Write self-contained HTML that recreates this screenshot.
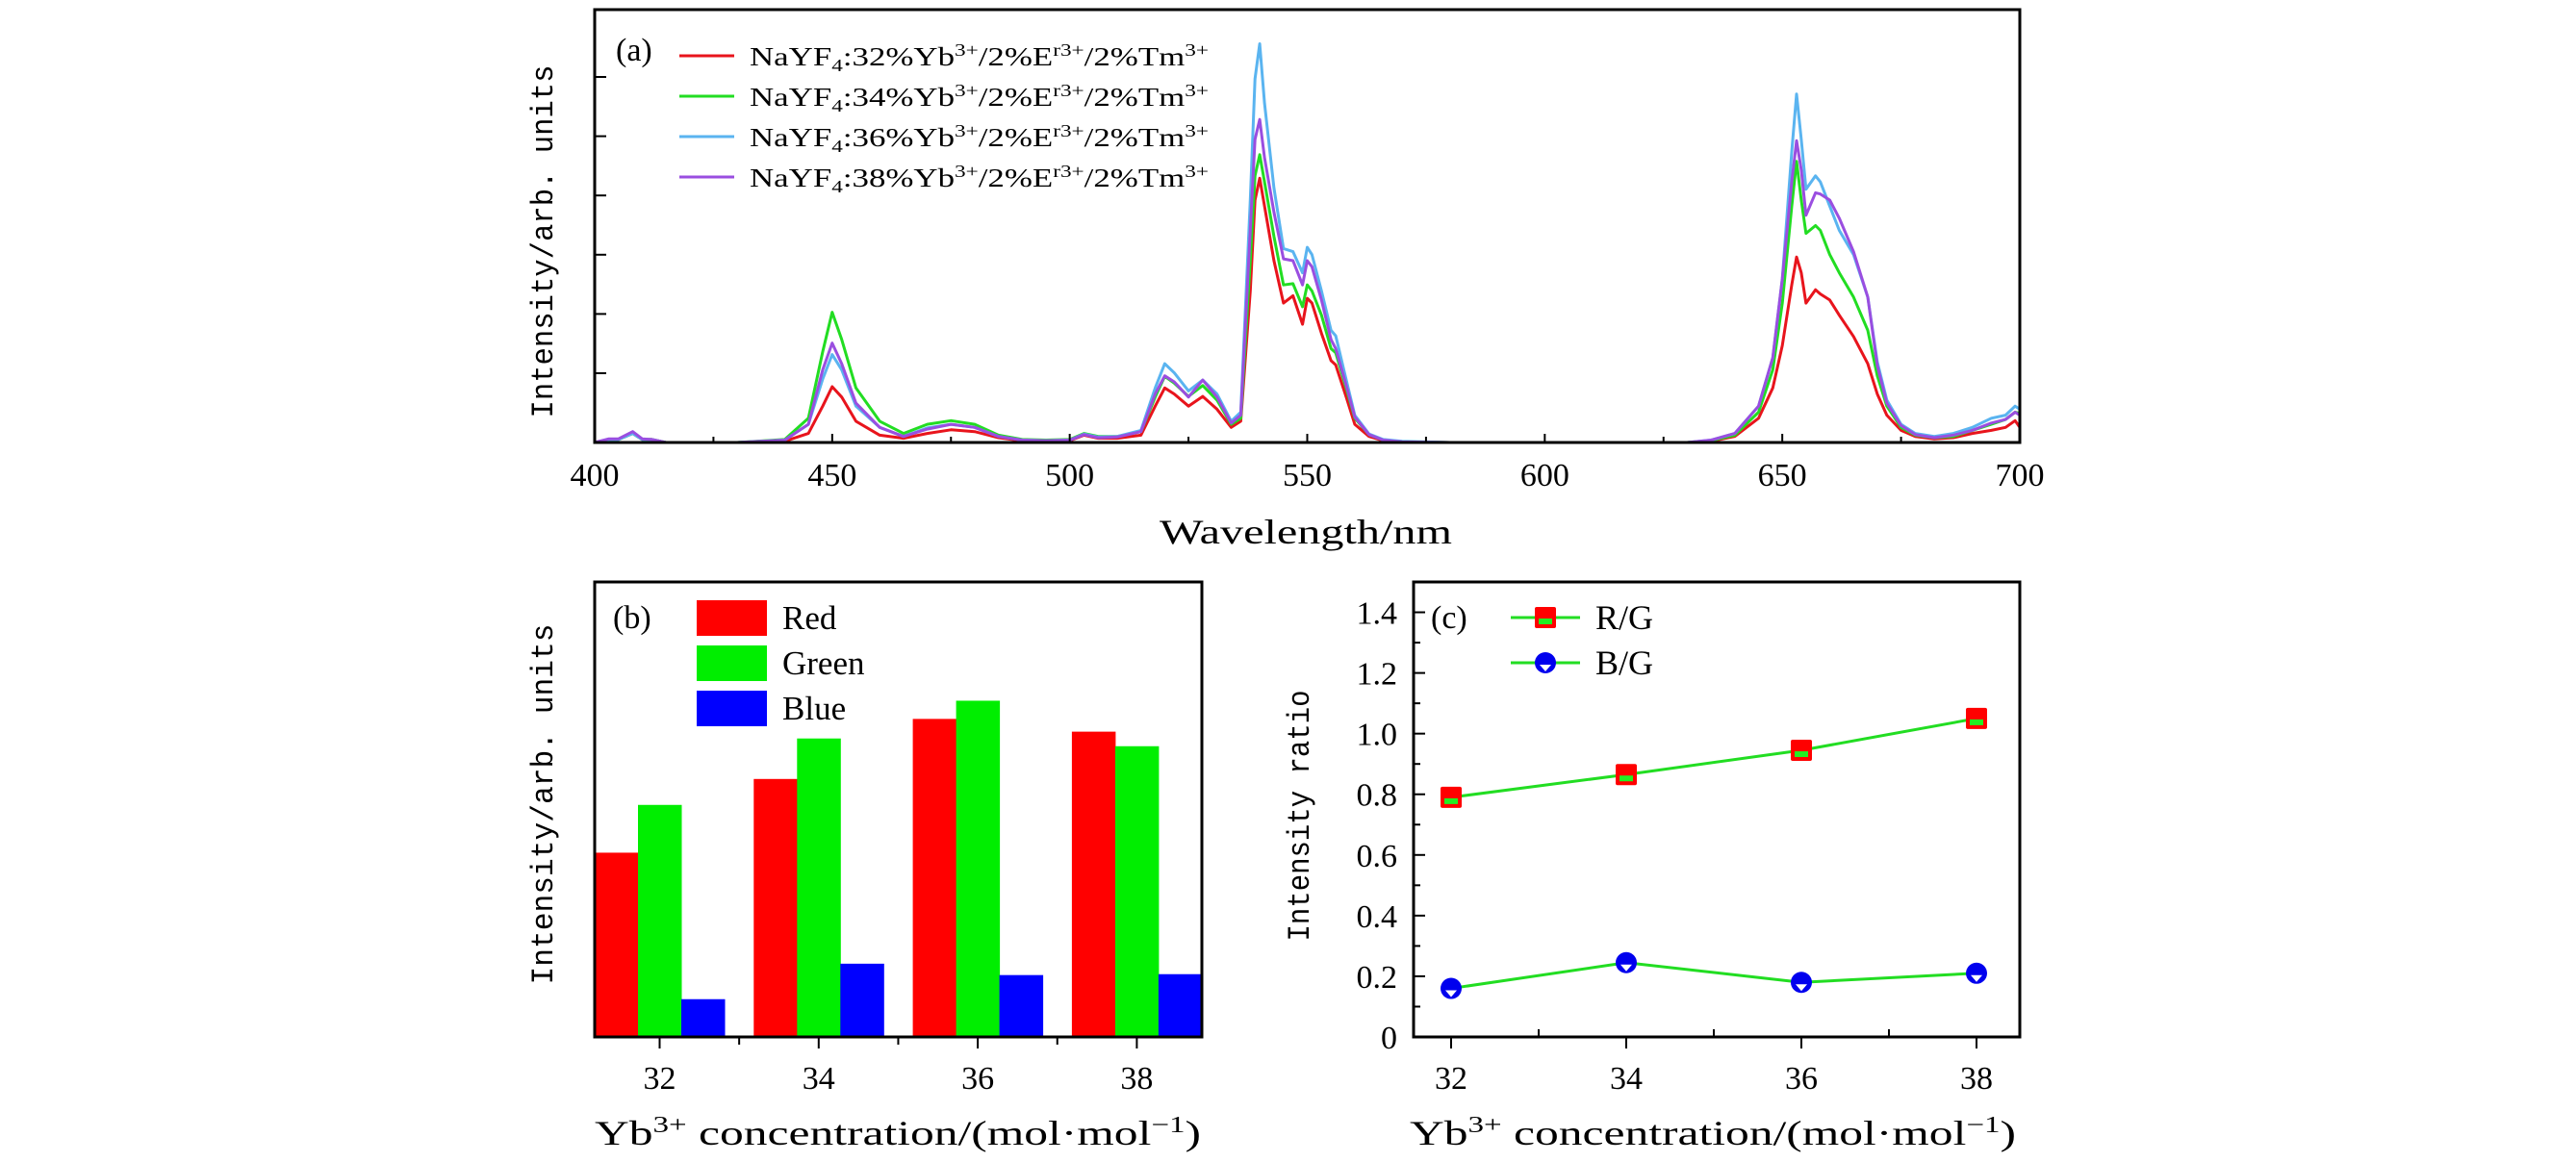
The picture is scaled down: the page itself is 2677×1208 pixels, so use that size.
<!DOCTYPE html>
<html><head><meta charset="utf-8"><style>
html,body{margin:0;padding:0;background:#fff;}
svg{display:block;font-family:"Liberation Serif",serif;}
</style></head><body>
<svg id="fig" width="2677" height="1208" viewBox="0 0 2677 1208" xmlns="http://www.w3.org/2000/svg">
<g id="pa"></g>
<g id="pb"></g>
<g id="pc"></g>
</svg>
<script>
const wavelengths=[400,403,405,408,410,412,415,420,430,440,445,448,450,452,455,460,465,470,475,480,485,490,495,500,503,506,510,515,518,520,522,525,528,531,534,536,538,539,540,541,543,545,547,549,550,551,553,555,556,558,560,563,566,570,580,600,620,630,635,640,645,648,650,652,653,654,655,657,658,660,662,665,668,670,672,675,678,682,686,690,694,697,699,700];
const spec32=[0,0.05,0.05,0.15,0.05,0.05,0,0,0,0.02,0.15,0.6,0.92,0.75,0.35,0.12,0.07,0.15,0.21,0.18,0.08,0.03,0.02,0.03,0.12,0.07,0.07,0.12,0.6,0.9,0.8,0.6,0.76,0.55,0.25,0.35,2.5,4.0,4.36,3.9,3.0,2.3,2.42,1.95,2.38,2.3,1.8,1.35,1.28,0.8,0.3,0.1,0.03,0.01,0,0,0,0,0.02,0.1,0.4,0.9,1.6,2.6,3.06,2.8,2.3,2.52,2.45,2.35,2.1,1.75,1.3,0.8,0.45,0.2,0.1,0.06,0.08,0.15,0.2,0.25,0.36,0.25];
const spec34=[0,0.05,0.05,0.15,0.05,0.05,0,0,0,0.05,0.4,1.5,2.15,1.7,0.9,0.35,0.15,0.3,0.36,0.3,0.12,0.05,0.04,0.05,0.15,0.1,0.1,0.18,0.75,1.09,0.98,0.76,0.94,0.7,0.3,0.4,3.0,4.4,4.75,4.3,3.4,2.6,2.62,2.24,2.6,2.5,2.1,1.55,1.48,0.95,0.4,0.13,0.04,0.01,0,0,0,0,0.03,0.12,0.5,1.2,2.3,3.9,4.64,4.0,3.45,3.58,3.5,3.1,2.8,2.4,1.85,1.1,0.6,0.25,0.12,0.08,0.1,0.2,0.3,0.38,0.5,0.48];
const spec36=[0,0.05,0.05,0.15,0.05,0.05,0,0,0,0.04,0.3,1.05,1.45,1.2,0.6,0.25,0.1,0.24,0.3,0.25,0.1,0.04,0.03,0.04,0.14,0.09,0.1,0.2,0.9,1.3,1.15,0.85,1.03,0.8,0.35,0.5,4.0,6.0,6.58,5.6,4.2,3.2,3.15,2.8,3.22,3.1,2.5,1.85,1.76,1.1,0.45,0.14,0.05,0.02,0,0,0,0,0.04,0.15,0.6,1.4,2.7,4.8,5.75,5.0,4.18,4.4,4.3,3.9,3.5,3.1,2.4,1.33,0.7,0.3,0.15,0.1,0.15,0.25,0.4,0.45,0.6,0.55];
const spec38=[0,0.06,0.06,0.18,0.06,0.05,0,0,0,0.04,0.3,1.2,1.64,1.3,0.65,0.25,0.1,0.22,0.3,0.25,0.1,0.04,0.03,0.04,0.13,0.08,0.09,0.18,0.8,1.1,1.0,0.75,1.03,0.75,0.32,0.45,3.5,5.0,5.33,4.7,3.8,3.03,3.0,2.6,3.0,2.9,2.35,1.7,1.55,1.0,0.42,0.13,0.04,0.01,0,0,0,0,0.04,0.15,0.6,1.4,2.7,4.3,4.98,4.5,3.75,4.12,4.1,4.0,3.7,3.15,2.4,1.27,0.65,0.28,0.13,0.08,0.12,0.2,0.32,0.38,0.5,0.45];
const xTicksA=[400,450,500,550,600,650,700];
const concentrations=[32,34,36,38];
const redBars=[40.5,56.7,69.9,67.1];
const greenBars=[51,65.6,73.9,63.9];
const blueBars=[8.3,16.1,13.6,13.8];
const ratioRG=[0.79,0.865,0.945,1.05];
const ratioBG=[0.16,0.245,0.18,0.21];
const yTicksC=[0,0.2,0.4,0.6,0.8,1.0,1.2,1.4];
const yTickLabelsC=["0","0.2","0.4","0.6","0.8","1.0","1.2","1.4"];

const NS="http://www.w3.org/2000/svg";
function mk(parent,tag,attrs,text){const e=document.createElementNS(NS,tag);for(const k in attrs)e.setAttribute(k,attrs[k]);if(text!==undefined)e.textContent=text;parent.appendChild(e);return e;}

/* ---------- Panel (a) ---------- */
const pa=document.getElementById('pa');
const A={l:618,r:2099,t:10,b:460};
const xa=w=>A.l+(w-400)/300*(A.r-A.l);
const ya=v=>A.b-v*63;
const specs=[[spec32,'#e8141c','32'],[spec34,'#22dd22','34'],[spec36,'#5ab4f0','36'],[spec38,'#9a4ee0','38']];
specs.forEach(([s,c,n])=>{
  const pts=wavelengths.map((w,i)=>xa(w).toFixed(1)+','+ya(s[i]).toFixed(1)).join(' ');
  const pl=mk(pa,'polyline',{points:pts,fill:'none',stroke:c,'stroke-width':3,'stroke-linejoin':'round'});
  
  
});
let fr=mk(pa,'rect',{x:A.l,y:A.t,width:A.r-A.l,height:A.b-A.t,fill:'none',stroke:'#000','stroke-width':3});


for(let w=400;w<=700;w+=25){const big=w%50===0;mk(pa,'line',{x1:xa(w),x2:xa(w),y1:A.b,y2:A.b-(big?9:6),stroke:'#000','stroke-width':2});}
for(let k=0;k<6;k++){const y=388-k*61.6;mk(pa,'line',{x1:A.l,x2:A.l+12,y1:y,y2:y,stroke:'#000','stroke-width':2});}
xTicksA.forEach(w=>{const t=mk(pa,'text',{x:xa(w),y:505,'font-size':34,'text-anchor':'middle'},w);
  
  });
let t=mk(pa,'text',{x:1357,y:565,'font-size':36,'text-anchor':'middle',textLength:304,lengthAdjust:'spacingAndGlyphs'},'Wavelength/nm');


t=mk(pa,'text',{x:0,y:0,'font-size':32,'text-anchor':'middle','font-family':'Liberation Mono, monospace',textLength:367,lengthAdjust:'spacingAndGlyphs',transform:'translate(574,251) rotate(-90)'},'Intensity/arb. units');


t=mk(pa,'text',{x:640,y:63,'font-size':34},'(a)');


specs.forEach(([s,c,n],i)=>{
  const y=58+i*42;
  const g=mk(pa,'g',{});
  
  
  mk(g,'line',{x1:706,x2:763,y1:y,y2:y,stroke:c,'stroke-width':3});
  const tx=mk(g,'text',{x:779,y:y+10,'font-size':27,textLength:477,lengthAdjust:'spacingAndGlyphs'});
  tx.innerHTML='NaYF<tspan font-size="18" dy="6">4</tspan><tspan dy="-6">:'+n+'%Yb</tspan><tspan font-size="18" dy="-10">3+</tspan><tspan dy="10">/2%E</tspan><tspan font-size="18" dy="-10">r3+</tspan><tspan dy="10">/2%Tm</tspan><tspan font-size="18" dy="-10">3+</tspan>';
});

/* ---------- Panel (b) ---------- */
const pb=document.getElementById('pb');
const B={l:618,r:1249,t:605,b:1078};
const groupW=135, step=165.3, first=618;
const yb=v=>B.b-v/100*(B.b-B.t);
const barSets=[[redBars,'#ff0000','red'],[greenBars,'#00ee00','green'],[blueBars,'#0000ff','blue']];
concentrations.forEach((c,i)=>{
  barSets.forEach(([arr,col,nm],j)=>{
    const x0=first+i*step+j*(groupW/3);
    const r=mk(pb,'rect',{x:x0,y:yb(arr[i]),width:groupW/3+0.5,height:B.b-yb(arr[i]),fill:col});
    
    
  });
  const cx=first+i*step+groupW/2;
  mk(pb,'line',{x1:cx,x2:cx,y1:B.b,y2:B.b+12,stroke:'#000','stroke-width':2});
  const tl=mk(pb,'text',{x:cx,y:1132,'font-size':34,'text-anchor':'middle'},c);
  
  
  if(i<3){const bx=first+i*step+groupW+(step-groupW)/2;mk(pb,'line',{x1:bx,x2:bx,y1:B.b,y2:B.b+8,stroke:'#000','stroke-width':2});}
});
fr=mk(pb,'rect',{x:B.l,y:B.t,width:B.r-B.l,height:B.b-B.t,fill:'none',stroke:'#000','stroke-width':3});


t=mk(pb,'text',{x:0,y:0,'font-size':32,'text-anchor':'middle','font-family':'Liberation Mono, monospace',textLength:375,lengthAdjust:'spacingAndGlyphs',transform:'translate(574,836) rotate(-90)'},'Intensity/arb. units');


t=mk(pb,'text',{x:637,y:653,'font-size':34},'(b)');


[['Red','#ff0000',624],['Green','#00ee00',671],['Blue','#0000ff',718]].forEach(([n,c,y])=>{
  const g=mk(pb,'g',{});
  
  
  mk(g,'rect',{x:724,y:y,width:73,height:37,fill:c});
  mk(g,'text',{x:813,y:y+30,'font-size':35},n);
});
function xtitle(parent,cx){
  const tt=mk(parent,'text',{x:cx,y:1190,'font-size':36,'text-anchor':'middle',textLength:630,lengthAdjust:'spacingAndGlyphs'});
  tt.innerHTML='Yb<tspan font-size="24" dy="-13">3+</tspan><tspan dy="13"> concentration/(mol·mol</tspan><tspan font-size="24" dy="-13">−1</tspan><tspan dy="13">)</tspan>';
  return tt;
}
t=xtitle(pb,933);



/* ---------- Panel (c) ---------- */
const pc=document.getElementById('pc');
const C={l:1469,r:2099,t:605,b:1078};
const xc=v=>1508+(v-32)/6*(2054-1508);
const yc=v=>C.b-v/1.5*(C.b-C.t);
fr=mk(pc,'rect',{x:C.l,y:C.t,width:C.r-C.l,height:C.b-C.t,fill:'none',stroke:'#000','stroke-width':3});


yTicksC.forEach((v,i)=>{
  mk(pc,'line',{x1:C.l,x2:C.l+12,y1:yc(v),y2:yc(v),stroke:'#000','stroke-width':2});
  mk(pc,'line',{x1:C.l,x2:C.l+7,y1:yc(v+0.1),y2:yc(v+0.1),stroke:'#000','stroke-width':2});
  const tl=mk(pc,'text',{x:1452,y:yc(v)+12,'font-size':34,'text-anchor':'end'},yTickLabelsC[i]);
  
  
});
for(let v=32;v<=38;v+=1){const big=v%2===0;mk(pc,'line',{x1:xc(v),x2:xc(v),y1:C.b,y2:C.b+(big?12:-8),stroke:'#000','stroke-width':2});}
concentrations.forEach(c=>{const tl=mk(pc,'text',{x:xc(c),y:1132,'font-size':34,'text-anchor':'middle'},c);
  
  });
function sq(parent,x,y){mk(parent,'rect',{x:x-11,y:y-11,width:22,height:22,fill:'#ff0000',rx:2});mk(parent,'rect',{x:x-7,y:y+1,width:14,height:6,fill:'#22ee22'});}
function circ(parent,x,y){mk(parent,'circle',{cx:x,cy:y,r:11,fill:'#0000ee'});mk(parent,'polygon',{points:`${x-6},${y+2} ${x+6},${y+2} ${x},${y+9}`,fill:'#fff'});}
let l=mk(pc,'polyline',{points:concentrations.map((c,i)=>xc(c)+','+yc(ratioRG[i])).join(' '),fill:'none',stroke:'#22dd22','stroke-width':3});


l=mk(pc,'polyline',{points:concentrations.map((c,i)=>xc(c)+','+yc(ratioBG[i])).join(' '),fill:'none',stroke:'#22dd22','stroke-width':3});


concentrations.forEach((c,i)=>{
  const g1=mk(pc,'g',{});
  
  
  sq(g1,xc(c),yc(ratioRG[i]));
  const g2=mk(pc,'g',{});
  
  
  circ(g2,xc(c),yc(ratioBG[i]));
});
t=mk(pc,'text',{x:1487,y:653,'font-size':34},'(c)');


let g=mk(pc,'g',{});


mk(g,'line',{x1:1570,x2:1642,y1:642,y2:642,stroke:'#22dd22','stroke-width':3});
sq(g,1606,642);
mk(g,'text',{x:1658,y:654,'font-size':36},'R/G');
g=mk(pc,'g',{});


mk(g,'line',{x1:1570,x2:1642,y1:689,y2:689,stroke:'#22dd22','stroke-width':3});
circ(g,1606,689);
mk(g,'text',{x:1658,y:701,'font-size':36},'B/G');
t=mk(pc,'text',{x:0,y:0,'font-size':32,'text-anchor':'middle','font-family':'Liberation Mono, monospace',textLength:261,lengthAdjust:'spacingAndGlyphs',transform:'translate(1360,848) rotate(-90)'},'Intensity ratio');


t=xtitle(pc,1780);


</script>
</body></html>
